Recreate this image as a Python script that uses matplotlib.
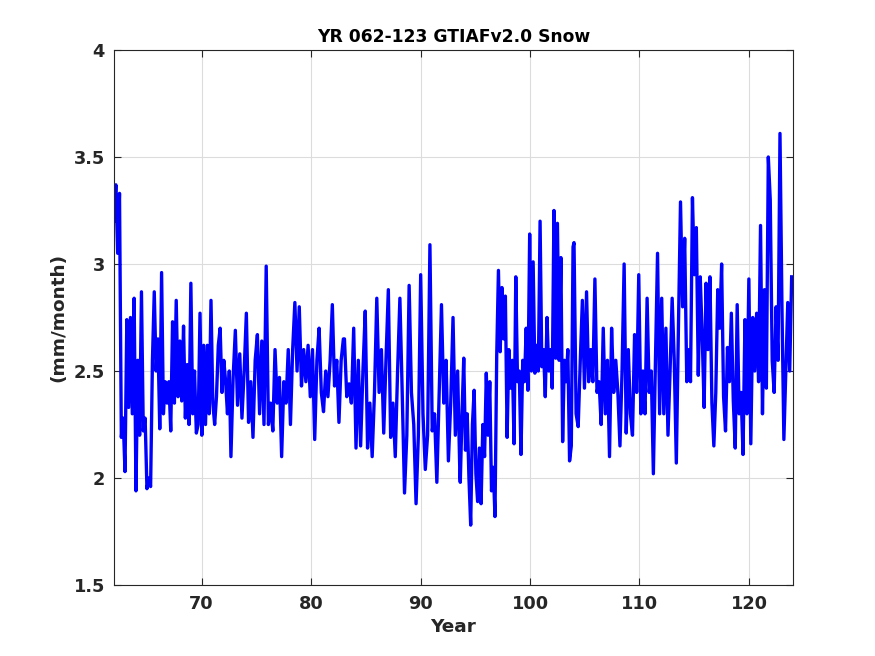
import numpy as np
import matplotlib
matplotlib.use("Agg")
import matplotlib.pyplot as plt

# snow values, in 6 stretches (start year, end year, values)
seg1_years = (62.0, 72.53)
seg1 = [3.20, 3.37, 3.05, 3.33, 2.19, 2.28, 2.03, 2.74, 2.33, 2.75, 2.30, 2.84, 1.94, 2.55,
        2.20, 2.87, 2.22, 2.28, 1.95, 2.00, 1.96, 2.55, 2.87, 2.50, 2.65, 2.23, 2.96, 2.30,
        2.45, 2.35, 2.45, 2.22, 2.73, 2.35, 2.83, 2.38, 2.64, 2.36, 2.71, 2.28, 2.53, 2.25,
        2.91, 2.30, 2.50, 2.21, 2.25, 2.77, 2.20, 2.62, 2.25, 2.62, 2.30, 2.83, 2.35, 2.25,
        2.38, 2.62, 2.70, 2.40, 2.55, 2.45, 2.30, 2.50]

seg2_years = (72.68, 82.95)
seg2 = [2.10, 2.47, 2.69, 2.34, 2.58, 2.28, 2.50, 2.77, 2.26, 2.45, 2.19, 2.55, 2.67, 2.30,
        2.64, 2.25, 2.99, 2.25, 2.35, 2.22, 2.60, 2.35, 2.47, 2.10, 2.45, 2.35, 2.60, 2.25,
        2.60, 2.82, 2.50, 2.80, 2.43, 2.60, 2.45, 2.62, 2.38, 2.60, 2.18, 2.55, 2.70, 2.40,
        2.31, 2.50, 2.38, 2.55, 2.81, 2.43, 2.55, 2.26, 2.55, 2.65]

seg3_years = (83.05, 93.6)
seg3 = [2.65, 2.38, 2.44, 2.35, 2.70, 2.14, 2.55, 2.15, 2.50, 2.78, 2.14, 2.35, 2.10, 2.40,
        2.84, 2.40, 2.60, 2.21, 2.56, 2.88, 2.19, 2.35, 2.10, 2.50, 2.84, 2.40, 1.93, 2.20,
        2.90, 2.40, 2.25, 1.88, 2.20, 2.95, 2.30, 2.04, 2.20, 3.09, 2.22, 2.30, 1.98, 2.40,
        2.81, 2.35, 2.55, 2.08, 2.35, 2.75, 2.20, 2.50, 2.00]

seg4_years = (93.63, 103.93)
seg4 = [1.98, 2.30, 2.56, 2.13, 2.30, 2.00, 1.78, 2.25, 2.41, 2.02, 1.89, 2.14, 1.88, 2.25,
        2.10, 2.49, 2.20, 2.45, 1.94, 2.05, 1.82, 2.57, 2.97, 2.59, 2.89, 2.65, 2.85, 2.19,
        2.60, 2.42, 2.55, 2.16, 2.94, 2.45, 2.50, 2.11, 2.55, 2.45, 2.70, 2.41, 3.14, 2.50,
        3.01, 2.49, 2.62, 2.50, 3.20, 2.52, 2.60, 2.38, 2.75, 2.50, 2.60, 2.42, 3.25, 2.56,
        3.19, 2.55, 3.03, 2.17, 2.55, 2.45, 2.60, 2.08, 2.15, 3.08]

seg5_years = (104.02, 114.51)
seg5 = [3.10, 2.30, 2.24, 2.55, 2.83, 2.42, 2.87, 2.45, 2.60, 2.45, 2.93, 2.40, 2.45, 2.25,
        2.70, 2.30, 2.55, 2.10, 2.70, 2.40, 2.55, 2.40, 2.15, 2.50, 3.00, 2.21, 2.60, 2.30,
        2.20, 2.67, 2.40, 2.95, 2.30, 2.50, 2.30, 2.84, 2.40, 2.50, 2.02, 2.55, 3.05, 2.30,
        2.84, 2.30, 2.70, 2.20, 2.50, 2.84, 2.55, 2.07, 2.70, 3.29, 2.80, 3.12, 2.45, 2.60]

seg6_years = (114.66, 123.9)
seg6 = [2.45, 3.31, 2.95, 3.17, 2.48, 2.94, 2.67, 2.33, 2.91, 2.60, 2.94, 2.35, 2.15, 2.40,
        2.88, 2.70, 3.00, 2.38, 2.22, 2.61, 2.45, 2.77, 2.36, 2.14, 2.81, 2.30, 2.40, 2.11,
        2.74, 2.30, 2.93, 2.16, 2.75, 2.50, 2.77, 2.45, 3.18, 2.30, 2.88, 2.42, 3.50, 3.30,
        2.55, 2.40, 2.80, 2.55, 3.61, 2.81, 2.18, 2.50, 2.82, 2.50, 2.94]

segments = [(seg1_years, seg1), (seg2_years, seg2), (seg3_years, seg3),
            (seg4_years, seg4), (seg5_years, seg5), (seg6_years, seg6)]

year = np.concatenate([np.linspace(a, b, len(v)) for (a, b), v in segments])
snow = np.concatenate([v for _, v in segments])

xticks = [70, 80, 90, 100, 110, 120]
yticks = [1.5, 2, 2.5, 3, 3.5, 4]
ytick_labels = ['1.5', '2', '2.5', '3', '3.5', '4']

plt.rcParams['font.family'] = 'DejaVu Sans'
plt.rcParams['font.weight'] = 'bold'

fig = plt.figure(figsize=(8.75, 6.56), dpi=100)
ax = fig.add_axes([0.1303, 0.1082, 0.7757, 0.8156])

ax.plot(year, snow, color=(0, 0, 1), lw=2.4)

ax.set_xlim(62, 124)
ax.set_ylim(1.5, 4)
ax.set_xticks(xticks)
ax.set_yticks(yticks)
ax.set_yticklabels(ytick_labels)
ax.grid(True, color='#dcdcdc', lw=0.8)
ax.set_axisbelow(True)
ax.tick_params(direction='in', top=True, right=True, length=5, width=0.8,
               colors='#262626', labelsize=12.8)
ax.tick_params(axis='x', pad=7)
ax.tick_params(axis='y', pad=6.5)
for lab in ax.get_xticklabels() + ax.get_yticklabels():
    lab.set_fontweight('bold')
for s in ax.spines.values():
    s.set_color('#262626')
    s.set_linewidth(0.8)

ax.set_title('YR 062-123 GTIAFv2.0 Snow', fontsize=12.3, fontweight='bold', pad=6)
ax.set_xlabel('Year', fontsize=13.3, fontweight='bold', color='#262626', labelpad=4)
ax.set_ylabel('(mm/month)', fontsize=13.3, fontweight='bold', color='#262626', labelpad=4.5)

fig.savefig('out.png', dpi=100)
